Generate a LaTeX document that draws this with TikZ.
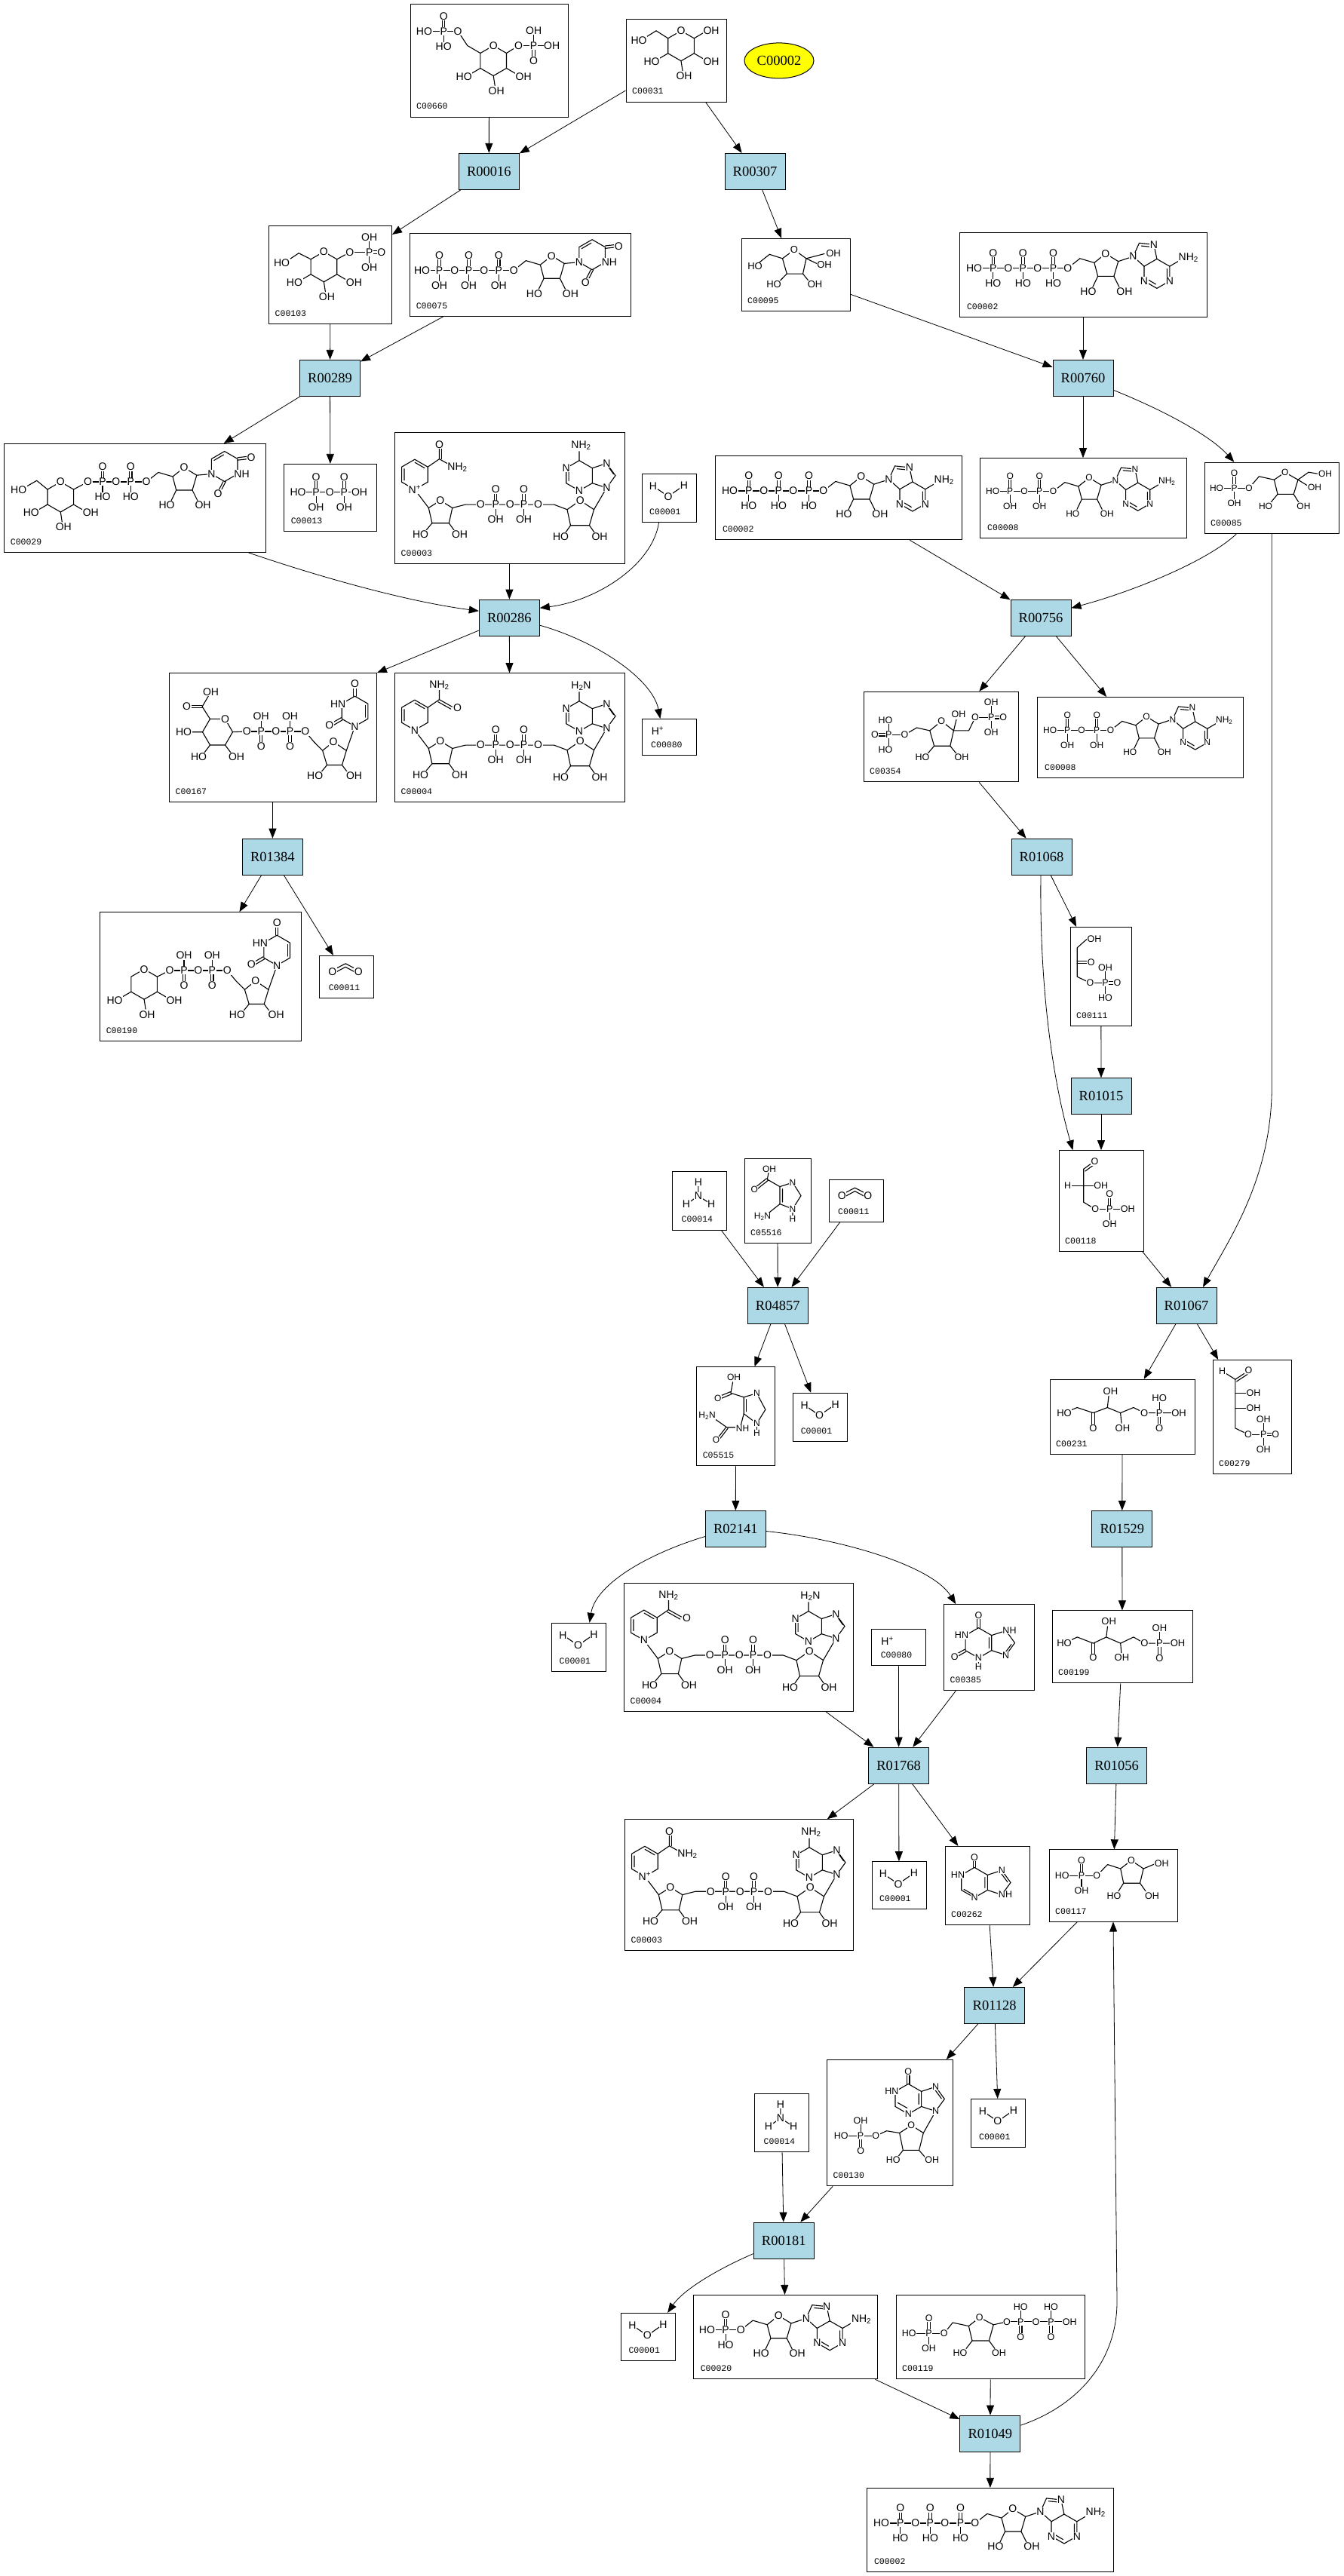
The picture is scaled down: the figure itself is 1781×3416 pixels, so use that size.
\documentclass[tikz,border=0pt]{standalone}
\usepackage{fontspec}
\setmainfont{Liberation Serif}
\setsansfont{Liberation Sans}
\setmonofont{Liberation Mono}
\usetikzlibrary{arrows.meta,calc,shapes.geometric}
\definecolor{rxblue}{HTML}{ADD8E6}
\definecolor{cpyel}{HTML}{FFFF00}
\def\atsz{14}
\newcommand\rxfont{\fontsize{18.5}{18.5}\selectfont\rmfamily}
\tikzset{
 bond/.style={line width=1.1pt, line cap=round},
 atm/.style={font=\fontsize{\atsz}{\atsz}\selectfont\sffamily, fill=white, inner sep=0.6pt},
 cbox/.style={draw, line width=1pt, inner sep=0pt},
 rbox/.style={draw, fill=rxblue, line width=1pt, minimum width=80pt, minimum height=48pt, inner sep=0pt, font=\rxfont},
 cidf/.style={font=\fontsize{11.5}{11.5}\selectfont\ttfamily, anchor=base west, inner sep=0pt},
 arr/.style={line width=0.8pt, -{Triangle[length=13pt,width=10pt]}},
}
\newcommand\cbx[5]{\node[cbox,minimum width={(#4-#2)*1pt},minimum height={(#5-#3)*1pt}] (#1) at ({(#2+#4)/2},{(#3+#5)/2}) {};}
\newcommand\PvT[4]{\draw[bond] (#1-1.7,#2) -- (#1-1.7,#2-18) (#1+1.7,#2) -- (#1+1.7,#2-18) (#1,#2) -- (#1,#2+18); \node[atm] at (#1,#2-20) {#3}; \node[atm] at (#1,#2+20) {#4};}
\newcommand\PvB[4]{\draw[bond] (#1,#2) -- (#1,#2-18) (#1-1.7,#2) -- (#1-1.7,#2+18) (#1+1.7,#2) -- (#1+1.7,#2+18); \node[atm] at (#1,#2-20) {#3}; \node[atm] at (#1,#2+20) {#4};}
\newcommand\PvR[5]{\draw[bond] (#1,#2) -- (#1,#2-18) (#1,#2) -- (#1,#2+18) (#1,#2-1.7) -- (#1+13,#2-1.7) (#1,#2+1.7) -- (#1+13,#2+1.7); \node[atm] at (#1,#2-20) {#3}; \node[atm] at (#1,#2+20) {#4}; \node[atm] at (#1+16,#2) {#5};}
\newcommand\Chain[3]{\draw[bond] (#2,#1) -- (#3,#1);}
\newcommand\Atoms[2]{\foreach \xx/\ll in {#2} {\node[atm] at (\xx,#1) {\ll};}}
\newcommand\Rib{%
 \draw[bond] (0,0) -- (16,-12.6) -- (35,-7) -- (50,-19) -- (66.8,-8.8) -- (61,11) -- (39.7,11) -- (35,-7);
 \draw[bond] (39.7,11) -- (33,25) (61,11) -- (68,25);
 \node[atm] at (50,-19) {O}; \node[atm] at (27,31) {HO}; \node[atm] at (75,31) {OH};}
\newcommand\Ade{%
 \draw[bond] (66.8,-8.8) -- (86.6,-15.3);
 \draw[bond] (86.6,-15.3) -- (94.6,-33.1) -- (114,-31.1) -- (118,-12) -- (101.1,-2.25) -- cycle;
 \draw[bond] (118,-12) -- (134.9,-2.25) -- (134.9,17.25) -- (118,27) -- (101.1,17.25) -- (101.1,-2.25);
 \draw[bond] (134.9,-2.25) -- (149,-10.5);
 \draw[bond] (97.5,-29.3) -- (110.5,-28) (131.4,1) -- (131.4,14) (116.5,21.5) -- (105.5,15);
 \node[atm] at (86.6,-15.3) {N}; \node[atm] at (114,-31.1) {N}; \node[atm] at (101.1,17.25) {N}; \node[atm] at (134.9,17.25) {N};
 \node[atm,anchor=west] at (146,-14) {NH\textsubscript{2}};}
\newcommand\Ura{%
 \draw[bond] (66.8,-8.8) -- (86.4,-10.5);
 \draw[bond] (103.7,-40.5) -- (121,-30.5) -- (121,-10.5) -- (103.7,-0.5) -- (86.4,-10.5) -- (86.4,-30.5) -- cycle;
 \draw[bond] (89.8,-28.5) -- (102.5,-36);
 \draw[bond] (121,-32.2) -- (134,-33.7) (121,-28.8) -- (134,-30.3);
 \draw[bond] (102,-0.5) -- (95,13) (105.4,-0.5) -- (98.4,13);
 \node[atm] at (86.4,-10.5) {N}; \node[atm] at (126.5,-10.5) {NH};
 \node[atm] at (139,-32) {O}; \node[atm] at (95,16) {O};}
\newcommand\UrdV{%
 \draw[bond] (0,0) -- (11.5,13.7) -- (23,25.3) -- (37.3,13.7) -- (54.6,25.3) -- (48.8,44.5) -- (28.8,44.5) -- (23,25.3);
 \draw[bond] (28.8,44.5) -- (21,54) (48.8,44.5) -- (56,54);
 \draw[bond] (54.6,25.3) -- (65.8,-6.8);
 \draw[bond] (65.8,-6.8) -- (48.5,-16.8) -- (48.5,-36.8) -- (65.8,-46.8) -- (83.1,-36.8) -- (83.1,-16.8) -- cycle;
 \draw[bond] (79.7,-34.5) -- (79.7,-19);
 \draw[bond] (47.6,-18.3) -- (35,-11) (49.4,-15.3) -- (37,-8);
 \draw[bond] (64.1,-46.8) -- (64.1,-60) (67.5,-46.8) -- (67.5,-60);
 \node[atm] at (37.3,13.7) {O}; \node[atm] at (13,59) {HO}; \node[atm] at (64.8,59) {OH};
 \node[atm] at (65.8,-6.8) {N}; \node[atm] at (43.5,-36.8) {HN}; \node[atm] at (32,-8) {O}; \node[atm] at (65.8,-63) {O};}
\newcommand\Pyr[2]{\begin{scope}[shift={(#1,#2)}]
 \draw[bond] (0,-20) -- (17.3,-10) -- (17.3,10) -- (0,20) -- (-17.3,10) -- (-17.3,-10) -- cycle;
 \draw[bond] (17.3,10) -- (31,18) (-17.3,10) -- (-31,18) (0,20) -- (2,33);
 \node[atm] at (0,-20) {O}; \node[atm] at (40,21) {OH}; \node[atm] at (-39,21) {HO}; \node[atm] at (4,40) {OH};
 \end{scope}}
\newcommand\ATPm{%
 \Chain{46.6}{19.5}{143.9}
 \PvT{44.8}{46.6}{O}{HO}\PvT{84.4}{46.6}{O}{HO}\PvT{124.6}{46.6}{O}{HO}
 \begin{scope}[shift={(143.9,46.6)}]\Rib\Ade\end{scope}
 \Atoms{46.6}{19.5/HO,44.8/P,64.9/O,84.4/P,103.9/O,124.6/P,143.9/O}}
\newcommand\ADPm{%
 \def\atsz{12}%
 \Chain{43.9}{17.2}{97.6}
 \PvT{40.2}{43.9}{O}{OH}\PvT{79.2}{43.9}{O}{OH}
 \begin{scope}[shift={(97.6,43.9)},scale=0.95]\Rib\Ade\end{scope}
 \Atoms{43.9}{17.2/HO,40.2/P,59.1/O,79.2/P,97.6/O}}
\newcommand\NADm[4]{%
 \draw[bond] (26.4,35.5) -- (43.7,45.5) -- (43.7,65.5) -- (26.4,75.5) -- (9.1,65.5) -- (9.1,45.5) -- cycle;
 \draw[bond] (12.5,48) -- (12.5,63) (26.6,39.5) -- (39.5,47);
 \draw[bond] (43.7,45.5) -- (59,35) -- (59,20) (59,35) -- (76,44.5);
 \draw[bond] (26.4,75.5) -- (44.8,99.8);
 \draw[bond] (44.8,99.8) -- (60.3,90) -- (76.3,99.8) -- (71.8,120) -- (49.4,120) -- cycle;
 \draw[bond] (49.4,120) -- (41,130) (71.8,120) -- (79,130);
 \draw[bond] (76.3,99.8) -- (93.6,95.4) -- (211,95.4) -- (228.5,102);
 \PvT{133.7}{95.4}{O}{OH}\PvT{171}{95.4}{O}{OH}
 \draw[bond] (228.5,102) -- (245.7,90) -- (264,102) -- (258,123) -- (233,123) -- cycle;
 \draw[bond] (233,123) -- (226,133) (258,123) -- (265,133);
 \draw[bond] (244.5,37) -- (261.8,47) -- (261.8,67) -- (244.5,77) -- (227.2,67) -- (227.2,47) -- cycle;
 \draw[bond] (261.8,47) -- (280.8,40.8) -- (292.5,57) -- (280.8,73.2) -- (261.8,67);
 \draw[bond] (264,102) -- (280.8,73.2) (244.5,37) -- (244.5,25);
 \draw[bond] (230.6,50) -- (230.6,64) (283,45) -- (290,55);
 \node[atm] at (26.4,75.5) {#1}; \node[atm] at (59,16) {#2}; \node[atm] at (83,46) {#3};
 \node[atm] at (60.3,90) {O}; \node[atm] at (34,135) {HO}; \node[atm] at (86,135) {OH};
 \node[atm] at (245.7,90) {O}; \node[atm] at (220,138) {HO}; \node[atm] at (271.5,138) {OH};
 \node[atm] at (227.2,47) {N}; \node[atm] at (244.5,77) {N}; \node[atm] at (280.8,40.8) {N}; \node[atm] at (280.8,73.2) {N};
 \node[atm] at (247,17) {#4};
 \Atoms{95.4}{113.7/O,133.7/P,152.7/O,171/P,190/O}}
\newcommand\Water{\draw[bond] (15,16) -- (35,29.6) -- (56,15); \node[atm] at (15,16) {H}; \node[atm] at (35,29.6) {O}; \node[atm] at (56,15) {H};}
\newcommand\Ammon{\draw[bond] (34.4,14.3) -- (34.4,32.4) -- (18.4,43.3) (34.4,32.4) -- (51.7,43.3); \node[atm] at (34.4,14.3) {H}; \node[atm] at (34.4,32.4) {N}; \node[atm] at (18.4,43.3) {H}; \node[atm] at (51.7,43.3) {H};}
\newcommand\COtwo{\draw[bond] (20,18) -- (34.5,10.5) -- (49,18) (21.5,22) -- (34.5,15) -- (47.5,22); \node[atm] at (17.2,21.4) {O}; \node[atm] at (51.7,21.4) {O};}
\begin{document}
\begin{tikzpicture}[x=1pt,y=-1pt]
\fill[white] (0,0) rectangle (1781,3416);
\useasboundingbox (0,0) rectangle (1781,3416);
% ---------- compound boxes
\cbx{n660}{544}{5.5}{753}{155}
\cbx{n031}{830}{25.8}{963}{135}
\cbx{n103}{356.5}{299.5}{519.5}{429}
\cbx{n075}{543.6}{309.4}{836.4}{419}
\cbx{n095}{983}{316.5}{1127.4}{412}
\cbx{n002a}{1272}{308.8}{1600}{420.7}
\cbx{n029}{5.7}{588.5}{352.5}{732.2}
\cbx{n013}{376.6}{615.4}{499.4}{704.8}
\cbx{n003a}{523.5}{573.7}{828}{747}
\cbx{n001a}{851}{628.6}{923}{692.2}
\cbx{n002b}{948}{604.4}{1275}{715.8}
\cbx{n008a}{1299}{607.7}{1573}{713}
\cbx{n085}{1597}{613.2}{1775.6}{707.6}
\cbx{n167}{224.5}{892.7}{499.4}{1063.2}
\cbx{n004a}{523.5}{892.7}{828}{1063.2}
\cbx{n080a}{851}{953.5}{923}{1001.3}
\cbx{n354}{1145}{917.3}{1350.7}{1036.9}
\cbx{n008b}{1375}{924.5}{1648.6}{1031.4}
\cbx{n190}{132.6}{1209.7}{399.5}{1380.3}
\cbx{n011a}{423.6}{1267.3}{495.4}{1323.2}
\cbx{n111}{1419}{1229.4}{1500.5}{1360}
\cbx{n118}{1404}{1525.6}{1516}{1659}
\cbx{n014a}{891.5}{1553.6}{963}{1631.5}
\cbx{n516}{987}{1536.6}{1075}{1648.5}
\cbx{n011b}{1099}{1564.6}{1171}{1620}
\cbx{n515}{923.6}{1812.7}{1027.5}{1943.8}
\cbx{n001b}{1051.6}{1847.3}{1123.5}{1911}
\cbx{n231}{1392}{1829.2}{1584}{1928}
\cbx{n279}{1608}{1803.4}{1712}{1954.8}
\cbx{n001c}{731.5}{2152.3}{803.7}{2216}
\cbx{n004b}{827.5}{2099.6}{1131.5}{2269.6}
\cbx{n080b}{1155.6}{2160.5}{1227.5}{2208.8}
\cbx{n385}{1251.5}{2127.6}{1371}{2241.7}
\cbx{n199}{1395}{2135.8}{1581}{2231.8}
\cbx{n003b}{828.5}{2412.8}{1131.6}{2586.9}
\cbx{n001d}{1156}{2468.7}{1228}{2531.8}
\cbx{n262}{1253}{2448.4}{1365}{2552}
\cbx{n117}{1391}{2452.8}{1561}{2548}
\cbx{n014b}{1000.5}{2776.6}{1072.2}{2853}
\cbx{n130}{1096.3}{2731.4}{1263.8}{2898.8}
\cbx{n001e}{1287.9}{2783.4}{1359.6}{2847.4}
\cbx{n001f}{823.3}{3067.4}{895}{3130.8}
\cbx{n020}{919.6}{3043.4}{1163.4}{3154.8}
\cbx{n119}{1188}{3043.4}{1438.8}{3154.8}
\cbx{n002c}{1149}{3299.4}{1476.7}{3410.8}
\node[draw,ellipse,fill=cpyel,minimum width=92pt,minimum height=47pt,inner sep=0pt,line width=1pt,font=\rxfont] (e002) at (1033,80.4) {C00002};
% ---------- structures
\begin{scope}[shift={(544,5.5)}]
 \Chain{35.7}{18.4}{63}
 \PvT{44.2}{35.7}{O}{HO}
 \draw[bond] (63,35.7) -- (75.8,55) -- (92.9,65);
 \Pyr{110.2}{75}
 \draw[bond] (127.5,65) -- (143.5,55);
 \Chain{55}{143.5}{187.7}
 \PvB{163.6}{55}{OH}{O}
 \Atoms{35.7}{18.4/HO,44.2/P,63/O}
 \Atoms{55}{143.5/O,163.6/P,187.7/OH}
 \node[cidf] (i660) at (8,139) {C00660};
\end{scope}
\begin{scope}[shift={(830,25.8)}]
 \Pyr{73}{35}
 \draw[bond] (55.7,25) -- (40,15) -- (24,25);
 \draw[bond] (90.3,25) -- (104,17);
 \node[atm] at (17,28) {HO}; \node[atm] at (113,15) {OH};
 \node[cidf] (i031) at (8,99) {C00031};
\end{scope}
\begin{scope}[shift={(356.5,299.5)}]
 \Pyr{72.9}{54.3}
 \draw[bond] (55.6,44.3) -- (39.6,36.2) -- (25,46);
 \draw[bond] (90.2,44.3) -- (107.3,35.1);
 \Chain{35.1}{107.3}{133.2}
 \PvR{133.2}{35.1}{OH}{OH}{O}
 \Atoms{35.1}{107.3/O,133.2/P}
 \node[atm] at (17,49) {HO};
 \node[cidf] (i103) at (8,119.5) {C00103};
\end{scope}
\begin{scope}[shift={(543.6,309.4)}]
 \Chain{48.8}{16}{137.8}
 \PvT{39}{48.8}{O}{OH}\PvT{78}{48.8}{O}{OH}\PvT{117.7}{48.8}{O}{OH}
 \begin{scope}[shift={(137.8,48.8)}]\Rib\Ura\end{scope}
 \Atoms{48.8}{16/HO,39/P,59.1/O,78/P,98.2/O,117.7/P,137.8/O}
 \node[cidf] (i075) at (8,99.6) {C00075};
\end{scope}
\begin{scope}[shift={(983,316.5)}]
 \def\atsz{13}
 \draw[bond] (70,14.8) -- (86,26.3) -- (81.5,46.6) -- (60.3,46.6) -- (54.5,26.3) -- cycle;
 \draw[bond] (54.5,26.3) -- (37.3,20.8) -- (22,33);
 \draw[bond] (86,26.3) -- (110,20) (86,26.3) -- (100,33);
 \draw[bond] (60.3,46.6) -- (50,57) (81.5,46.6) -- (90,57);
 \node[atm] at (70,14.8) {O}; \node[atm] at (18,37) {HO}; \node[atm] at (122,20) {OH}; \node[atm] at (110,35) {OH};
 \node[atm] at (43,61) {HO}; \node[atm] at (97.6,61) {OH};
 \node[cidf] (i095) at (8,85.5) {C00095};
\end{scope}
\begin{scope}[shift={(1272,308.8)}]
 \ATPm
 \node[cidf] (i002a) at (9.8,102) {C00002};
\end{scope}
\begin{scope}[shift={(5.7,588.5)}]
 \Pyr{74.6}{70.5}
 \draw[bond] (57.3,60.5) -- (43,48.8) -- (27,58);
 \draw[bond] (91.9,60.5) -- (110.8,50.5);
 \Chain{50.5}{110.8}{188.3}
 \PvT{130.3}{50.5}{O}{HO}\PvT{167.6}{50.5}{O}{HO}
 \begin{scope}[shift={(188.3,50.5)}]\Rib\Ura\end{scope}
 \Atoms{50.5}{110.8/O,130.3/P,148/O,167.6/P,188.3/O}
 \node[atm] at (19,61) {HO};
 \node[cidf] (i029) at (8,133.7) {C00029};
\end{scope}
\begin{scope}[shift={(376.6,615.4)}]
 \Chain{37.3}{18.4}{99.9}
 \PvT{42.5}{37.3}{O}{OH}\PvT{79.8}{37.3}{O}{OH}
 \Atoms{37.3}{18.4/HO,42.5/P,60.8/O,79.8/P,99.9/OH}
 \node[cidf] (i013) at (9,79.4) {C00013};
\end{scope}
\begin{scope}[shift={(523.5,573.7)}]
 \draw[bond] (62.4,35) -- (62.4,20);
 \NADm{N\textsuperscript{+}}{O}{NH\textsubscript{2}}{NH\textsubscript{2}}
 \node[cidf] (i003a) at (8,163.3) {C00003};
\end{scope}
\begin{scope}[shift={(851,628.6)}]
 \Water
 \node[cidf] (i001a) at (10,53.6) {C00001};
\end{scope}
\begin{scope}[shift={(948,604.4)}]
 \ATPm
 \node[cidf] (i002b) at (9.8,101.4) {C00002};
\end{scope}
\begin{scope}[shift={(1299,607.7)}]
 \ADPm
 \node[cidf] (i008a) at (10,95.3) {C00008};
\end{scope}
\begin{scope}[shift={(1597,613.2)}]
 \def\atsz{12}
 \Chain{34}{16}{59.1}
 \PvT{39.6}{34}{O}{OH}
 \draw[bond] (59.1,34) -- (72.3,18.6) -- (92.4,23);
 \draw[bond] (92.4,23) -- (106.8,13.2) -- (124,23) -- (118.2,42.2) -- (97,42.2) -- cycle;
 \draw[bond] (124,23) -- (138,13) -- (150,15) (124,23) -- (137,31);
 \draw[bond] (97,42.2) -- (88,53) (118.2,42.2) -- (125,53);
 \node[atm] at (106.8,13.2) {O}; \node[atm] at (160,15) {OH}; \node[atm] at (146,33) {OH};
 \node[atm] at (81,58) {HO}; \node[atm] at (131.4,58) {OH};
 \Atoms{34}{16/HO,39.6/P,59.1/O}
 \node[cidf] (i085) at (8,84.4) {C00085};
\end{scope}
\begin{scope}[shift={(224.5,892.7)}]
 \draw[bond] (84,78) -- (74,60.7) -- (54,60.7) -- (44,78) -- (54,95.3) -- (74,95.3) -- cycle;
 \draw[bond] (54,60.7) -- (43.6,44.4) -- (52,30);
 \draw[bond] (43.6,42.7) -- (28,42.7) (43.6,46.1) -- (28,46.1);
 \draw[bond] (44,78) -- (30,78) (54,95.3) -- (46,106) (74,95.3) -- (82,106);
 \draw[bond] (84,78) -- (102.7,77.3);
 \Chain{77.3}{102.7}{180.2}
 \PvB{121.7}{77.3}{OH}{O}\PvB{160.1}{77.3}{OH}{O}
 \begin{scope}[shift={(180.2,77.3)}]\UrdV\end{scope}
 \node[atm] at (74,60.7) {O}; \node[atm] at (55,25) {OH}; \node[atm] at (23,44.4) {O};
 \node[atm] at (19,78) {HO}; \node[atm] at (39,111) {HO}; \node[atm] at (89,111) {OH};
 \Atoms{77.3}{102.7/O,121.7/P,141.2/O,160.1/P,180.2/O}
 \node[cidf] (i167) at (8,160.5) {C00167};
\end{scope}
\begin{scope}[shift={(523.5,892.7)}]
 \draw[bond] (57.3,38) -- (74.3,47.5);
 \NADm{N}{NH\textsubscript{2}}{O}{H\textsubscript{2}N}
 \node[cidf] (i004a) at (8,160.5) {C00004};
\end{scope}
\begin{scope}[shift={(851,953.5)}]
 \node[atm] at (21,16) {H\textsuperscript{+}};
 \node[cidf] (i080a) at (12,37.8) {C00080};
\end{scope}
\begin{scope}[shift={(1145,917.3)}]
 \def\atsz{12.5}
 \draw[bond] (33.3,57) -- (33.3,40) (33.3,57) -- (33.3,74) (33.3,55.3) -- (19,55.3) (33.3,58.7) -- (19,58.7) (33.3,57) -- (54.5,57);
 \draw[bond] (54.5,57) -- (70.6,47.7) -- (87.8,51.6);
 \draw[bond] (87.8,51.6) -- (103.3,38.9) -- (119.4,51.6) -- (114.8,71.9) -- (93.6,71.9) -- cycle;
 \draw[bond] (119.4,51.6) -- (123,37) (119.4,51.6) -- (139.5,51.6) -- (148,34);
 \draw[bond] (93.6,71.9) -- (85,82) (114.8,71.9) -- (123,82);
 \Chain{34}{148}{169.3}
 \PvR{169.3}{34}{OH}{OH}{O}
 \node[atm] at (103.3,38.9) {O}; \node[atm] at (126,30) {OH};
 \node[atm] at (29,38) {HO}; \node[atm] at (29,77) {HO}; \node[atm] at (15,57) {O};
 \node[atm] at (78,87) {HO}; \node[atm] at (130,87) {OH};
 \Atoms{57}{33.3/P,54.5/O}
 \Atoms{34}{148/O,169.3/P}
 \node[cidf] (i354) at (8,109.6) {C00354};
\end{scope}
\begin{scope}[shift={(1375,924.5)}]
 \ADPm
 \node[cidf] (i008b) at (10,96.9) {C00008};
\end{scope}
\begin{scope}[shift={(132.6,1209.7)}]
 \Pyr{58.5}{95.5}
 \draw[bond] (75.8,85.5) -- (92.4,77.3);
 \Chain{77.3}{92.4}{168.8}
 \PvB{111.4}{77.3}{OH}{O}\PvB{148.7}{77.3}{OH}{O}
 \begin{scope}[shift={(168.8,77.3)}]\UrdV\end{scope}
 \Atoms{77.3}{92.4/O,111.4/P,130.3/O,148.7/P,168.8/O}
 \node[cidf] (i190) at (8,160.6) {C00190};
\end{scope}
\begin{scope}[shift={(423.6,1267.3)}]
 \COtwo
 \node[cidf] (i011a) at (12,45.9) {C00011};
\end{scope}
\begin{scope}[shift={(1419,1229.4)}]
 \def\atsz{12.5}
 \draw[bond] (9.2,27.4) -- (22,16) (9.2,27.4) -- (9.2,65.8) -- (26.4,74);
 \draw[bond] (9.2,44.9) -- (22,44.9) (9.2,48.3) -- (22,48.3);
 \Chain{74}{26.4}{46.5}
 \PvR{46.5}{74}{OH}{HO}{O}
 \node[atm] at (32,15.4) {OH}; \node[atm] at (27.6,46.6) {O};
 \Atoms{74}{26.4/O,46.5/P}
 \node[cidf] (i111) at (8,120.6) {C00111};
\end{scope}
\begin{scope}[shift={(1404,1525.6)}]
 \def\atsz{12.5}
 \draw[bond] (32.7,24.7) -- (32.7,68.6) -- (48.2,77.9);
 \draw[bond] (32.7,24.7) -- (44,16.5) (34.7,27.5) -- (46,19.3);
 \draw[bond] (32.7,46.6) -- (15,46.6) (32.7,46.6) -- (47,46.6);
 \Chain{77.9}{48.2}{91.3}
 \PvT{67.2}{77.9}{O}{OH}
 \node[atm] at (47.5,15) {O}; \node[atm] at (11.5,46.6) {H}; \node[atm] at (55.7,46.6) {OH};
 \Atoms{77.9}{48.2/O,67.2/P,91.3/OH}
 \node[cidf] (i118) at (8,123.4) {C00118};
\end{scope}
\begin{scope}[shift={(891.5,1553.6)}]
 \Ammon
 \node[cidf] (i014a) at (12,66.9) {C00014};
\end{scope}
\begin{scope}[shift={(987,1536.6)}]
 \def\atsz{12}
 \draw[bond] (30.4,27.4) -- (32,18) (30.4,27.4) -- (47,37) (29.4,26.1) -- (14,38.4) (31.4,28.7) -- (16,41);
 \draw[bond] (47,37) -- (64,31.5) -- (75,49) -- (64,66.5) -- (47,60) -- cycle;
 \draw[bond] (50.5,40) -- (50.5,57.5) (47,60) -- (32,72) (64,66.5) -- (64,77);
 \node[atm] at (33,13.7) {OH}; \node[atm] at (13.2,41.1) {O}; \node[atm] at (64,31.5) {N}; \node[atm] at (64,66.5) {N};
 \node[atm] at (64,80) {H}; \node[atm] at (24,77) {H\textsubscript{2}N};
 \node[cidf] (i516) at (8,101.9) {C05516};
\end{scope}
\begin{scope}[shift={(1099,1564.6)}]
 \COtwo
 \node[cidf] (i011b) at (12,45.4) {C00011};
\end{scope}
\begin{scope}[shift={(923.6,1812.7)}]
 \def\atsz{12}
 \draw[bond] (45.3,34.6) -- (48,20) (45.3,34.6) -- (62.6,40) (44.65,33) -- (30,39) (45.95,36.2) -- (31.5,42.2);
 \draw[bond] (62.6,40) -- (79.8,35) -- (91.3,56.5) -- (79.8,75) -- (62.6,62) -- cycle;
 \draw[bond] (66,43) -- (66,59) (79.8,75) -- (79.8,85);
 \draw[bond] (62.6,62) -- (58,80) -- (40,80) -- (20,66) (39,80) -- (29,93) (41.5,81.5) -- (31.5,94.5);
 \node[atm] at (49.4,13.7) {OH}; \node[atm] at (28.1,41.7) {O}; \node[atm] at (79.8,35) {N}; \node[atm] at (79.8,75) {N};
 \node[atm] at (79.8,88) {H}; \node[atm] at (61,82) {NH}; \node[atm] at (14,65) {H\textsubscript{2}N}; \node[atm] at (26,97) {O};
 \node[cidf] (i515) at (8,121.1) {C05515};
\end{scope}
\begin{scope}[shift={(1051.6,1847.3)}]
 \Water
 \node[cidf] (i001b) at (10,53.7) {C00001};
\end{scope}
\begin{scope}[shift={(1392,1829.2)}]
 \def\atsz{13}
 \draw[bond] (19,44.4) -- (36.2,37.3) -- (57.4,44.4) -- (76.3,37.3) -- (93.6,44.4) -- (110.8,37.3) -- (125.1,44.4) -- (171,44.4);
 \draw[bond] (55.7,44.4) -- (55.7,60) (59.1,44.4) -- (59.1,60);
 \draw[bond] (76.3,37.3) -- (78,22) (93.6,44.4) -- (95,58);
 \PvB{145.2}{44.4}{HO}{O}
 \node[atm] at (57.4,64.7) {O}; \node[atm] at (80.4,15.4) {OH}; \node[atm] at (96.4,64.7) {OH};
 \Atoms{44.4}{19/HO,125.1/O,145.2/P,171/OH}
 \node[cidf] (i231) at (8,88.8) {C00231};
\end{scope}
\begin{scope}[shift={(1608,1803.4)}]
 \def\atsz{12.5}
 \draw[bond] (12.6,14.8) -- (29.8,25.8) -- (29.8,90.5) -- (47,98.7);
 \draw[bond] (29.8,25.8) -- (44,16.5) (31.6,28.5) -- (45.8,19.2);
 \draw[bond] (29.8,43.9) -- (45,43.9) (29.8,64.2) -- (45,64.2);
 \Chain{98.7}{47}{67.2}
 \PvR{67.2}{98.7}{OH}{OH}{O}
 \node[atm] at (12.6,14.8) {H}; \node[atm] at (47.5,14) {O}; \node[atm] at (54,43.9) {OH}; \node[atm] at (54,64.2) {OH};
 \Atoms{98.7}{47/O,67.2/P}
 \node[cidf] (i279) at (8,141.4) {C00279};
\end{scope}
\begin{scope}[shift={(731.5,2152.3)}]
 \Water
 \node[cidf] (i001c) at (10,53.7) {C00001};
\end{scope}
\begin{scope}[shift={(827.5,2099.6)}]
 \draw[bond] (57.3,38) -- (74.3,47.5);
 \NADm{N}{NH\textsubscript{2}}{O}{H\textsubscript{2}N}
 \node[cidf] (i004b) at (8,160) {C00004};
\end{scope}
\begin{scope}[shift={(1155.6,2160.5)}]
 \node[atm] at (21,16) {H\textsuperscript{+}};
 \node[cidf] (i080b) at (12,38.3) {C00080};
\end{scope}
\begin{scope}[shift={(1251.5,2127.6)}]
 \def\atsz{12.5}
 \draw[bond] (45.9,31) -- (63.2,41) -- (63.2,61) -- (45.9,71) -- (28.6,61) -- (28.6,41) -- cycle;
 \draw[bond] (63.2,41) -- (82.2,34.8) -- (94,51) -- (82.2,67.2) -- (63.2,61);
 \draw[bond] (44.2,31) -- (44.2,18) (47.6,31) -- (47.6,18);
 \draw[bond] (27.8,59.5) -- (16,66.2) (29.4,62.5) -- (17.6,69.2);
 \draw[bond] (59.8,44) -- (59.8,58) (89.5,53) -- (81.5,63.5) (45.9,71) -- (45.9,80);
 \node[atm] at (45.9,14.8) {O}; \node[atm] at (14.3,69.1) {O}; \node[atm] at (23.5,41) {HN};
 \node[atm] at (45.9,71) {N}; \node[atm] at (45.9,83) {H}; \node[atm] at (87,34.8) {NH}; \node[atm] at (82.2,67.2) {N};
 \node[cidf] (i385) at (8,104.1) {C00385};
\end{scope}
\begin{scope}[shift={(1395,2135.8)}]
 \def\atsz{13}
 \draw[bond] (16,43.3) -- (33.3,35.1) -- (54.5,43.3) -- (71.8,35.1) -- (90.7,43.3) -- (107.9,35.1) -- (122.3,43.3) -- (166.5,43.3);
 \draw[bond] (52.8,43.3) -- (52.8,58) (56.2,43.3) -- (56.2,58);
 \draw[bond] (71.8,35.1) -- (73.5,21) (90.7,43.3) -- (91.8,56);
 \PvB{142.4}{43.3}{OH}{O}
 \node[atm] at (54.5,62.5) {O}; \node[atm] at (75.2,14.3) {OH}; \node[atm] at (92.4,62.5) {OH};
 \Atoms{43.3}{16/HO,122.3/O,142.4/P,166.5/OH}
 \node[cidf] (i199) at (8,86) {C00199};
\end{scope}
\begin{scope}[shift={(828.5,2412.8)}]
 \draw[bond] (62.4,35) -- (62.4,20);
 \NADm{N\textsuperscript{+}}{O}{NH\textsubscript{2}}{NH\textsubscript{2}}
 \node[cidf] (i003b) at (8,164) {C00003};
\end{scope}
\begin{scope}[shift={(1156,2468.7)}]
 \Water
 \node[cidf] (i001d) at (10,53.1) {C00001};
\end{scope}
\begin{scope}[shift={(1253,2448.4)}]
 \def\atsz{12.5}
 \draw[bond] (39,28) -- (56.3,38) -- (56.3,58) -- (39,68) -- (21.7,58) -- (21.7,38) -- cycle;
 \draw[bond] (56.3,38) -- (75.3,31.8) -- (87,48) -- (75.3,64.2) -- (56.3,58);
 \draw[bond] (37.3,28) -- (37.3,18) (40.7,28) -- (40.7,18);
 \draw[bond] (25,57) -- (37.5,64) (52.9,41) -- (52.9,55) (74.5,36) -- (83,47.5);
 \node[atm] at (39,14.8) {O}; \node[atm] at (17,38) {HN}; \node[atm] at (39,68) {N};
 \node[atm] at (75.3,31.8) {N}; \node[atm] at (80,64.2) {NH};
 \node[cidf] (i262) at (8,93.6) {C00262};
\end{scope}
\begin{scope}[shift={(1391,2452.8)}]
 \def\atsz{12.5}
 \Chain{34.6}{17.2}{63.1}
 \PvT{43}{34.6}{O}{OH}
 \draw[bond] (63.1,34.6) -- (77.5,19.7) -- (94.7,25.2);
 \draw[bond] (94.7,25.2) -- (109,14.3) -- (125.1,25.2) -- (120.5,44.4) -- (98.7,44.4) -- cycle;
 \draw[bond] (125.1,25.2) -- (140,19) (98.7,44.4) -- (92,55) (120.5,44.4) -- (128,55);
 \node[atm] at (109,14.3) {O}; \node[atm] at (149.2,18.6) {OH}; \node[atm] at (86,60.9) {HO}; \node[atm] at (136.6,60.9) {OH};
 \Atoms{34.6}{17.2/HO,43/P,63.1/O}
 \node[cidf] (i117) at (8,85.2) {C00117};
\end{scope}
\begin{scope}[shift={(1000.5,2776.6)}]
 \Ammon
 \node[cidf] (i014b) at (12,66.4) {C00014};
\end{scope}
\begin{scope}[shift={(1096.3,2731.4)}]
 \def\atsz{12.5}
 \draw[bond] (108,32) -- (125.3,42) -- (125.3,62) -- (108,72) -- (90.7,62) -- (90.7,42) -- cycle;
 \draw[bond] (125.3,42) -- (144.3,35.8) -- (156,52) -- (144.3,68.2) -- (125.3,62);
 \draw[bond] (106.3,32) -- (106.3,21) (109.7,32) -- (109.7,21);
 \draw[bond] (94,57) -- (106.5,64) (121.9,45) -- (121.9,59) (143.5,40) -- (152,51.5);
 \draw[bond] (96.4,97.1) -- (112,86.9) -- (128,97.1) -- (122.3,120) -- (101,120) -- cycle;
 \draw[bond] (128,97.1) -- (144.3,68.2) (101,120) -- (94,129) (122.3,120) -- (130,129);
 \draw[bond] (96.4,97.1) -- (79.2,94.3) -- (64.9,101);
 \Chain{101}{19}{64.9}
 \PvB{44.8}{101}{OH}{O}
 \node[atm] at (108,15.4) {O}; \node[atm] at (86,42) {HN}; \node[atm] at (108,72) {N};
 \node[atm] at (144.3,35.8) {N}; \node[atm] at (144.3,68.2) {N}; \node[atm] at (112,86.9) {O};
 \node[atm] at (88,133) {HO}; \node[atm] at (139.5,133) {OH};
 \Atoms{101}{19/HO,44.8/P,64.9/O}
 \node[cidf] (i130) at (8,157.4) {C00130};
\end{scope}
\begin{scope}[shift={(1287.9,2783.4)}]
 \Water
 \node[cidf] (i001e) at (10,54) {C00001};
\end{scope}
\begin{scope}[shift={(823.3,3067.4)}]
 \Water
 \node[cidf] (i001f) at (10,53.4) {C00001};
\end{scope}
\begin{scope}[shift={(919.6,3043.4)}]
 \Chain{46.3}{17.8}{62.6}
 \PvT{42.5}{46.3}{O}{HO}
 \begin{scope}[shift={(62.6,46.3)}]\Rib\Ade\end{scope}
 \Atoms{46.3}{17.8/HO,42.5/P,62.6/O}
 \node[cidf] (i020) at (9,101.4) {C00020};
\end{scope}
\begin{scope}[shift={(1188,3043.4)}]
 \def\atsz{12.5}
 \Chain{50.9}{17.2}{63.7}
 \PvT{43.6}{50.9}{O}{OH}
 \draw[bond] (63.7,50.9) -- (75.2,36.6) -- (96.4,41.1);
 \draw[bond] (96.4,41.1) -- (110.8,29.7) -- (129.2,39.4) -- (123.4,60.6) -- (101,60.6) -- cycle;
 \draw[bond] (101,60.6) -- (93,71) (123.4,60.6) -- (131,71) (129.2,39.4) -- (147,35.4);
 \Chain{35.4}{147}{230.2}
 \PvB{165.3}{35.4}{HO}{O}\PvB{205.5}{35.4}{HO}{O}
 \node[atm] at (110.8,29.7) {O}; \node[atm] at (85,76.6) {HO}; \node[atm] at (136.6,76.6) {OH};
 \Atoms{35.4}{147/O,165.3/P,185.4/O,205.5/P,230.2/OH}
 \Atoms{50.9}{17.2/HO,43.6/P,63.7/O}
 \node[cidf] (i119) at (8,101.4) {C00119};
\end{scope}
\begin{scope}[shift={(1149,3299.4)}]
 \ATPm
 \node[cidf] (i002c) at (9.8,101.4) {C00002};
\end{scope}
% ---------- reactions
\node[rbox] (r016) at (648.3,227.4) {R00016};
\node[rbox] (r307) at (1001,227.4) {R00307};
\node[rbox] (r289) at (437.5,501.4) {R00289};
\node[rbox] (r760) at (1436,501.4) {R00760};
\node[rbox] (r286) at (675.3,819.2) {R00286};
\node[rbox] (r756) at (1380,819.2) {R00756};
\node[rbox] (r384) at (361.3,1136.2) {R01384};
\node[rbox] (r068) at (1381,1136.2) {R01068};
\node[rbox] (r015) at (1460,1453.7) {R01015};
\node[rbox] (r857) at (1031.2,1731.3) {R04857};
\node[rbox] (r067) at (1573,1731.3) {R01067};
\node[rbox] (r141) at (975.3,2027.5) {R02141};
\node[rbox] (r529) at (1487.8,2027.5) {R01529};
\node[rbox] (r768) at (1191.6,2341.2) {R01768};
\node[rbox] (r056) at (1480.6,2341.2) {R01056};
\node[rbox] (r128) at (1318.6,2659.4) {R01128};
\node[rbox] (r181) at (1039.2,2971.1) {R00181};
\node[rbox] (r049) at (1312.9,3227.1) {R01049};
% ---------- connectors
\draw[arr] (n660) -- (r016);
\draw[arr] (n031) -- (r016);
\draw[arr] (n031) -- (r307);
\draw[arr] (r016) -- (n103);
\draw[arr] (n103) -- (r289);
\draw[arr] (n075) -- (r289);
\draw[arr] (r307) -- (n095);
\draw[arr] (n095) -- (r760);
\draw[arr] (n002a) -- (r760);
\draw[arr] (r289) -- (n029);
\draw[arr] (r289) -- (n013);
\draw[arr] (r760) -- (n008a);
\draw[arr] ($(r760.east)+(0,16)$) .. controls (1545,545) and (1605,578) .. ($(n085.north)+(-50,0)$);
\draw[arr] ($(n029.south east)+(-24,0)$) .. controls (385,752) and (520,795) .. ($(r286.west)+(0,-9)$);
\draw[arr] (n003a) -- (r286);
\draw[arr] ($(n001a.south)+(-13.4,0)$) .. controls (865,750) and (790,797) .. ($(r286.east)+(0,-13)$);
\draw[arr] (n002b) -- (r756);
\draw[arr] ($(n085.south)+(-47,0)$) .. controls (1600,745) and (1500,785) .. ($(r756.east)+(0,-13)$);
\draw[arr] (n085.south) -- (1686.3,1440) .. controls (1686.3,1560) and (1632,1640) .. ($(r067.north)+(22,0)$);
\draw[arr] ($(r286.east)+(0,10)$) .. controls (790,850) and (865,900) .. ($(n080a.north)+(-11.6,0)$);
\draw[arr] (r286) -- (n167.north east);
\draw[arr] (r286) -- (n004a);
\draw[arr] (r756) -- (n354);
\draw[arr] (r756) -- (n008b);
\draw[arr] (n167) -- (r384);
\draw[arr] (r384) -- (n190);
\draw[arr] (r384) -- (n011a);
\draw[arr] (n354) -- (r068);
\draw[arr] (r068) -- (n111);
\draw[arr] ($(r068.south)+(-1,0)$) .. controls (1378,1320) and (1398,1440) .. ($(n118.north)+(-37.6,0)$);
\draw[arr] (n111) -- (r015);
\draw[arr] (r015) -- (n118);
\draw[arr] (n014a) -- (r857);
\draw[arr] (n516) -- (r857);
\draw[arr] (n011b) -- (r857);
\draw[arr] (n118) -- (r067);
\draw[arr] (r857) -- (n515);
\draw[arr] (r857) -- (n001b);
\draw[arr] (r067) -- (n231);
\draw[arr] (r067) -- (n279);
\draw[arr] (n515) -- (r141);
\draw[arr] (n231) -- (r529);
\draw[arr] ($(r141.west)+(0,10)$) .. controls (860,2060) and (790,2100) .. ($(n001c.north)+(14,0)$);
\draw[arr] ($(r141.east)+(0,3)$) .. controls (1110,2040) and (1235,2075) .. ($(n385.north)+(-44,0)$);
\draw[arr] (r529) -- (n199);
\draw[arr] (n004b) -- (r768);
\draw[arr] (n080b) -- (r768);
\draw[arr] (n385) -- (r768);
\draw[arr] (n199) -- (r056);
\draw[arr] (r768) -- (n003b);
\draw[arr] (r768) -- (n001d);
\draw[arr] (r768) -- (n262);
\draw[arr] (r056) -- (n117);
\draw[arr] (n262) -- (r128);
\draw[arr] (n117) -- (r128);
\draw[arr] (r128) -- (n130);
\draw[arr] (r128) -- (n001e);
\draw[arr] (n014b) -- (r181);
\draw[arr] (n130) -- (r181);
\draw[arr] ($(r181.west)+(0,17.5)$) .. controls (945,3012) and (905,3038) .. ($(n001f.north)+(26,0)$);
\draw[arr] (r181) -- (n020);
\draw[arr] (n020) -- (r049);
\draw[arr] (n119) -- (r049);
\draw[arr] (r049) -- (n002c);
\draw[arr] ($(r049.east)+(0,-11)$) .. controls (1430,3190) and (1482,3130) .. (1481,3050) -- ($(n117.south)+(0,0)$);
\end{tikzpicture}
\end{document}
